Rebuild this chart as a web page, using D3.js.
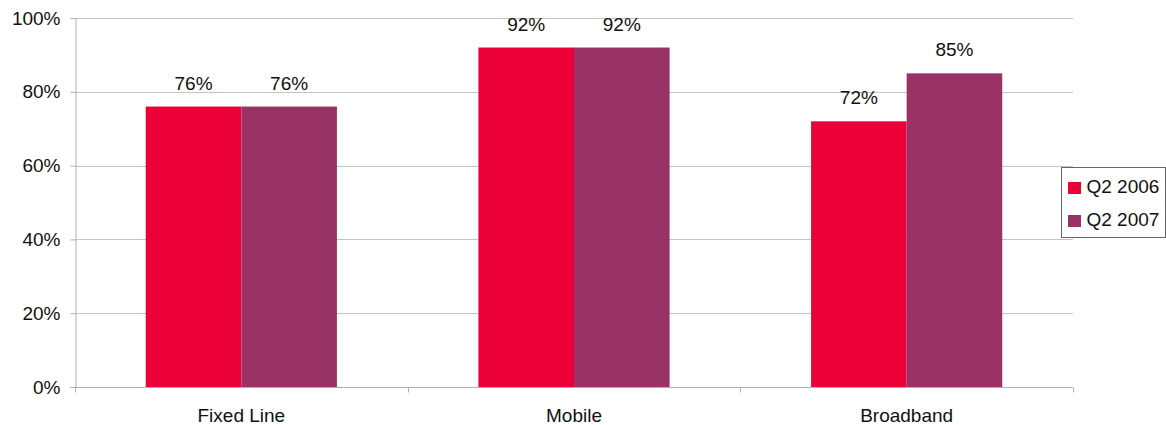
<!DOCTYPE html>
<html>
<head>
<meta charset="utf-8">
<script src="https://cdn.jsdelivr.net/npm/d3@7"></script>
<style>
  body { margin: 0; background: #fff; }
  svg { display: block; font-family: "Liberation Sans", Arial, sans-serif; }
</style>
</head>
<body>
<svg id="chart" width="1166" height="425"></svg>
<script>
const categories = ["Fixed Line", "Mobile", "Broadband"];
const seriesNames = ["Q2 2006", "Q2 2007"];
const q2006 = [76, 92, 72];
const q2007 = [76, 92, 85];
const yTicks = [0, 20, 40, 60, 80, 100];
const colors = ["#EB0037", "#993366"];

const svg = d3.select("#chart");
const plotLeft = 75, plotRight = 1073, plotTop = 18, plotBottom = 387;
const fontSize = 19;

const x = d3.scaleBand().domain(categories).range([plotLeft, plotRight]).padding(0);
const y = d3.scaleLinear().domain([0, 100]).range([plotBottom, plotTop]);
const inner = d3.scaleBand().domain(seriesNames)
  .range([0, x.bandwidth()]).paddingOuter(0.74).paddingInner(0);

// horizontal gridlines
svg.append("g").selectAll("line").data(yTicks.filter(d => d > 0)).join("line")
  .attr("x1", plotLeft).attr("x2", plotRight)
  .attr("y1", d => Math.round(y(d)) + 0.5).attr("y2", d => Math.round(y(d)) + 0.5)
  .attr("stroke", "#c4c4c4").attr("stroke-width", 1);

// y axis
const yAxis = svg.append("g").attr("transform", `translate(${plotLeft + 0.5},0)`)
  .call(d3.axisLeft(y).tickValues(yTicks).tickFormat(d => d + "%").tickSizeOuter(0).tickSize(5));
yAxis.select(".domain").attr("stroke", "#b0b0b0");
yAxis.selectAll(".tick line").attr("stroke", "#b0b0b0");
yAxis.selectAll(".tick text").attr("font-size", fontSize).attr("fill", "#111")
  .attr("font-family", "Liberation Sans, Arial, sans-serif").attr("x", -15);

// bars
const data = categories.map((c, i) => ({ cat: c, vals: [q2006[i], q2007[i]] }));
const groups = svg.append("g").selectAll("g").data(data).join("g")
  .attr("transform", d => `translate(${x(d.cat)},0)`);
groups.selectAll("rect").data(d => d.vals.map((v, j) => ({ s: seriesNames[j], v, j }))).join("rect")
  .attr("x", d => inner(d.s)).attr("width", inner.bandwidth())
  .attr("y", d => y(d.v)).attr("height", d => y(0) - y(d.v))
  .attr("fill", d => colors[d.j]);
groups.selectAll("text").data(d => d.vals.map((v, j) => ({ s: seriesNames[j], v, j }))).join("text")
  .attr("x", d => inner(d.s) + inner.bandwidth() / 2)
  .attr("y", d => y(d.v) - 17)
  .attr("text-anchor", "middle").attr("font-size", fontSize).attr("fill", "#111")
  .text(d => d.v + "%");

// x axis
const xAxisG = svg.append("g").attr("transform", `translate(0,${plotBottom + 0.5})`);
xAxisG.append("line").attr("x1", plotLeft).attr("x2", plotRight).attr("stroke", "#b0b0b0");
const bounds = [...categories.map(c => x(c)), plotRight];
xAxisG.selectAll("line.tk").data(bounds).join("line").attr("class", "tk")
  .attr("x1", d => Math.round(d) + 0.5).attr("x2", d => Math.round(d) + 0.5)
  .attr("y1", 0).attr("y2", 5).attr("stroke", "#b0b0b0");
xAxisG.selectAll("text").data(categories).join("text")
  .attr("x", d => x(d) + x.bandwidth() / 2).attr("y", 34)
  .attr("text-anchor", "middle").attr("font-size", fontSize).attr("fill", "#111")
  .text(d => d);

// legend
const lg = svg.append("g").attr("transform", "translate(1061.5,167.5)");
lg.append("rect").attr("width", 104).attr("height", 70)
  .attr("fill", "#fff").attr("stroke", "#666").attr("stroke-width", 1);
seriesNames.forEach((s, i) => {
  lg.append("rect").attr("x", 6.5).attr("y", 14.5 + i * 33).attr("width", 13).attr("height", 12)
    .attr("fill", colors[i]);
  lg.append("text").attr("x", 25).attr("y", 25 + i * 33).attr("font-size", fontSize).attr("fill", "#111")
    .text(s);
});
</script>
</body>
</html>
